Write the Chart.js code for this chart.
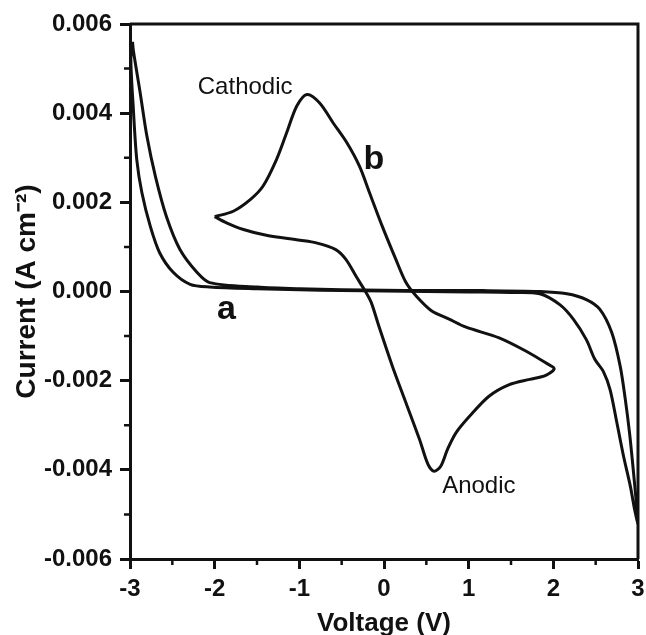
<!DOCTYPE html>
<html>
<head>
<meta charset="utf-8">
<script src="https://cdn.jsdelivr.net/npm/chart.js@4.4.0/dist/chart.umd.min.js"></script>
<style>
    html, body { margin: 0; padding: 0; background: #fff; }
    #wrapper { width: 646px; height: 635px; }
</style>
</head>
<body>
<div id="wrapper"><canvas id="cvChart"></canvas></div>
<script>
// Кривая a (широкое окно -3..3 В)
const curveAVoltage = [
    -2.97, -2.99, -2.96, -2.92, -2.86, -2.76, -2.65, -2.49, -2.29, -2.06,
    -1.5, -1.0, -0.5, 0.0, 0.5, 1.0, 1.5, 1.84,
    2.08, 2.24, 2.39, 2.49, 2.59, 2.67, 2.75, 2.83, 2.91, 2.96, 3.0,
    2.98, 2.94, 2.90, 2.85, 2.79, 2.69, 2.55, 2.39, 2.16, 1.84,
    1.17, 0.5, 0.0, -0.5, -1.0, -1.5, -2.06,
    -2.21, -2.41, -2.57, -2.70, -2.80, -2.88, -2.96, -2.97
];
const curveACurrent = [
    0.0056, 0.0052, 0.00408, 0.00296, 0.00222, 0.00146, 0.00087, 0.00043, 0.00016, 0.0001,
    0.00006, 0.00004, 0.00002, 0.00001, 0.0, -0.00001, -0.00002, -0.00005,
    -0.0003, -0.00063, -0.00108, -0.00152, -0.00179, -0.0022, -0.00294, -0.0037, -0.00437, -0.00489, -0.0052,
    -0.00473, -0.00392, -0.00317, -0.00242, -0.00168, -0.00092, -0.0004, -0.00018, -0.00005, 0.0,
    0.00002, 0.00002, 0.00003, 0.00004, 0.00006, 0.0001, 0.0002,
    0.00043, 0.00094, 0.00168, 0.00258, 0.00348, 0.00446, 0.0054, 0.0056
];

// Кривая b (окно -2..2 В)
const curveBVoltage = [
    -2.0, -1.78, -1.58, -1.43, -1.27, -1.15, -1.03, -0.91, -0.76, -0.60,
    -0.44, -0.29, -0.17, -0.02, 0.14, 0.26, 0.38, 0.56, 0.77, 0.97,
    1.36, 1.68, 1.91, 2.01,
    1.91, 1.72, 1.48, 1.24, 1.01, 0.85, 0.75, 0.67, 0.59, 0.52,
    0.42, 0.26, 0.10, -0.06, -0.15, -0.21, -0.33, -0.45, -0.57, -0.80,
    -0.99, -1.39, -1.66, -1.86, -2.0
];
const curveBCurrent = [
    0.00168, 0.0018, 0.00206, 0.00236, 0.00296, 0.00356, 0.00416, 0.00442, 0.00423, 0.00378,
    0.00334, 0.00281, 0.00221, 0.00146, 0.00072, 0.0002, -0.0001, -0.00043, -0.00062, -0.0008,
    -0.00104, -0.00134, -0.0016, -0.00173,
    -0.00188, -0.00197, -0.00209, -0.00235, -0.0028, -0.00317, -0.00354, -0.00392, -0.00403, -0.00388,
    -0.00332, -0.0025, -0.00168, -0.00078, -0.00025, -0.00003, 0.00034, 0.00072, 0.00094, 0.00109,
    0.00115, 0.00126, 0.00139, 0.00154, 0.00168
];

// Деления осей
const xTickValues = [-3, -2, -1, 0, 1, 2, 3];
const xMinorTicks = [-2.5, -1.5, -0.5, 0.5, 1.5, 2.5];
const yTickValues = [-0.006, -0.004, -0.002, 0.0, 0.002, 0.004, 0.006];
const yMinorTicks = [-0.005, -0.003, -0.001, 0.001, 0.003, 0.005];

// Подписи на графике
const noteTexts = ['Cathodic', 'Anodic', 'a', 'b'];
const noteVoltage = [-1.64, 1.12, -1.86, -0.12];
const noteCurrent = [0.00442, -0.00451, -0.00061, 0.00274];

const FONT = '"Liberation Sans", Arial, sans-serif';
const INK = '#111';

const toPoints = (xs, ys) => xs.map((v, i) => ({ x: v, y: ys[i] }));

const framePlugin = {
    id: 'frame',
    afterDraw(chart) {
        const { ctx, chartArea: a, scales: { x, y } } = chart;
        ctx.save();
        ctx.strokeStyle = INK;
        ctx.lineWidth = 3;
        ctx.beginPath();
        ctx.moveTo(a.left, a.top);
        ctx.lineTo(a.right, a.top);
        ctx.lineTo(a.right, a.bottom);
        ctx.stroke();

        // мелкие деления
        ctx.lineWidth = 2.5;
        ctx.beginPath();
        xMinorTicks.forEach(v => {
            const px = x.getPixelForValue(v);
            ctx.moveTo(px, a.bottom);
            ctx.lineTo(px, a.bottom + 6);
        });
        yMinorTicks.forEach(v => {
            const py = y.getPixelForValue(v);
            ctx.moveTo(a.left, py);
            ctx.lineTo(a.left - 6, py);
        });
        ctx.stroke();

        // подписи
        ctx.fillStyle = INK;
        ctx.textAlign = 'center';
        ctx.textBaseline = 'alphabetic';
        noteTexts.forEach((t, i) => {
            const big = t.length === 1;
            ctx.font = (big ? 'bold 34px ' : '24px ') + FONT;
            ctx.fillText(t, x.getPixelForValue(noteVoltage[i]), y.getPixelForValue(noteCurrent[i]));
        });
        ctx.restore();
    }
};

const lineStyle = {
    borderColor: INK,
    borderWidth: 3,
    pointRadius: 0,
    showLine: true,
    fill: false,
    tension: 0.3
};

new Chart(document.getElementById('cvChart'), {
    type: 'scatter',
    data: {
        datasets: [
            { label: 'a', data: toPoints(curveAVoltage, curveACurrent), ...lineStyle },
            { label: 'b', data: toPoints(curveBVoltage, curveBCurrent), ...lineStyle }
        ]
    },
    options: {
        responsive: true,
        maintainAspectRatio: false,
        animation: false,
        layout: { padding: { top: 24, right: 8, left: 0, bottom: 0 } },
        plugins: {
            legend: { display: false },
            tooltip: { enabled: false }
        },
        scales: {
            x: {
                type: 'linear',
                min: -3,
                max: 3,
                afterBuildTicks: s => { s.ticks = xTickValues.map(v => ({ value: v })); },
                afterFit: s => { s.height = 76; s.paddingLeft = 0; s.paddingRight = 0; },
                border: { display: true, color: INK, width: 3 },
                grid: { drawOnChartArea: false, drawTicks: true, tickLength: 10, tickWidth: 3, tickColor: INK },
                ticks: {
                    color: INK,
                    padding: 6,
                    font: { family: FONT, size: 24, weight: 'bold' },
                    callback: v => String(v)
                },
                title: {
                    display: true,
                    text: 'Voltage (V)',
                    color: INK,
                    font: { family: FONT, size: 26, weight: 'bold' },
                    padding: { top: 0, bottom: -4 }
                }
            },
            y: {
                type: 'linear',
                min: -0.006,
                max: 0.006,
                afterBuildTicks: s => { s.ticks = yTickValues.map(v => ({ value: v })); },
                afterFit: s => { s.width = 130; s.paddingTop = 0; s.paddingBottom = 0; },
                border: { display: true, color: INK, width: 3 },
                grid: { drawOnChartArea: false, drawTicks: true, tickLength: 10, tickWidth: 3, tickColor: INK },
                ticks: {
                    color: INK,
                    padding: 8,
                    font: { family: FONT, size: 24, weight: 'bold' },
                    callback: v => (Math.abs(v) < 1e-9 ? 0 : v).toFixed(3)
                },
                title: {
                    display: true,
                    text: 'Current (A cm\u207B\u00B2)',
                    color: INK,
                    font: { family: FONT, size: 28, weight: 'bold' },
                    padding: { top: 10, bottom: 0 }
                }
            }
        }
    },
    plugins: [framePlugin]
});
</script>
</body>
</html>
